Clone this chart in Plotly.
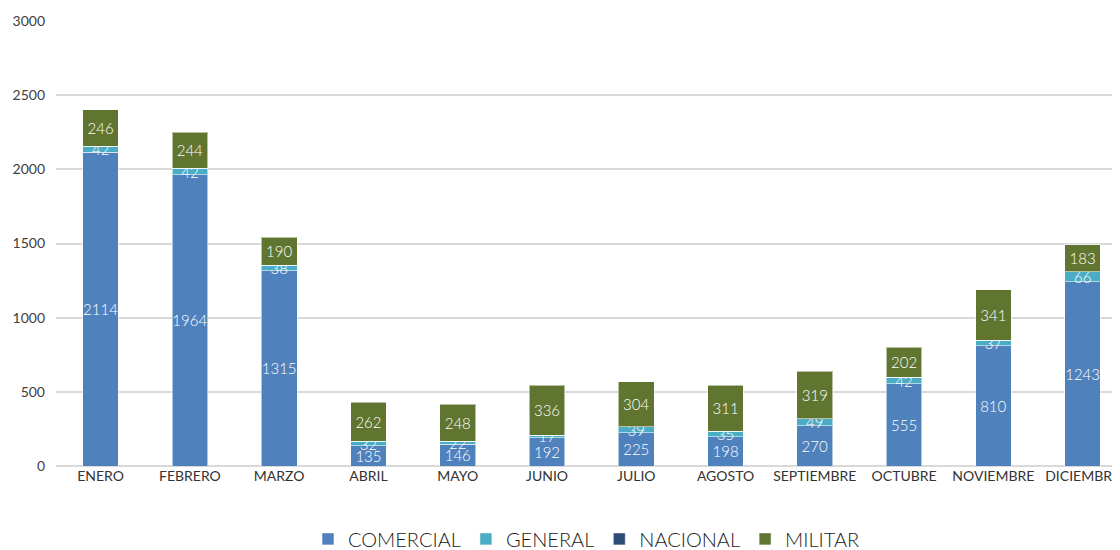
import plotly.graph_objects as go

months = ["ENERO", "FEBRERO", "MARZO", "ABRIL", "MAYO", "JUNIO", "JULIO",
          "AGOSTO", "SEPTIEMBRE", "OCTUBRE", "NOVIEMBRE", "DICIEMBRE"]
comercial = [2114, 1964, 1315, 135, 146, 192, 225, 198, 270, 555, 810, 1243]
general = [42, 42, 38, 32, 22, 17, 39, 35, 49, 42, 37, 66]
nacional = [0] * 12
militar = [246, 244, 190, 262, 248, 336, 304, 311, 319, 202, 341, 183]
y_ticks = [0, 500, 1000, 1500, 2000, 2500, 3000]

series = [
    ("COMERCIAL", comercial, "#4F81BD", True),
    ("GENERAL", general, "#4BACC6", True),
    ("NACIONAL", nacional, "#2C4D75", False),
    ("MILITAR", militar, "#5F7530", True),
]

FONT = "Lato"
fig = go.Figure()
for name, vals, color, show in series:
    fig.add_trace(go.Bar(
        name=name, x=months, y=vals,
        marker=dict(color=color, line=dict(color="rgba(255,255,255,0.55)", width=1)),
        text=[str(v) for v in vals] if show else None,
        texttemplate="%{text}" if show else None,
        textposition="inside" if show else "none",
        insidetextanchor="middle",
        constraintext="none",
        textangle=0,
        textfont=dict(color="white", size=15, family=FONT, weight=300),
    ))

fig.update_layout(
    barmode="stack",
    bargap=0.6,
    width=1112, height=580,
    margin=dict(l=48, r=0, t=13, b=122),
    plot_bgcolor="white", paper_bgcolor="white",
    font=dict(family=FONT, color="#404040", size=14),
    xaxis=dict(range=[-0.5, 11.385], showgrid=False, showline=False, ticks="",
               tickfont=dict(size=14, color="#333333", family=FONT, weight=400)),
    yaxis=dict(range=[0, 3000], tickvals=y_ticks, showgrid=True, gridcolor="#D9D9D9",
               gridwidth=2, zeroline=True, zerolinecolor="#D9D9D9", zerolinewidth=2,
               ticks="", tickfont=dict(size=14, color="#404040", family=FONT, weight=400),
               ticklabelstandoff=10),
    legend=dict(orientation="h", x=0.5, xanchor="center", y=-0.12, yanchor="top",
                font=dict(size=20, color="#1A1A1A", family=FONT, weight=300), itemwidth=30,
                traceorder="normal"),
)
fig.write_html("out.html")
